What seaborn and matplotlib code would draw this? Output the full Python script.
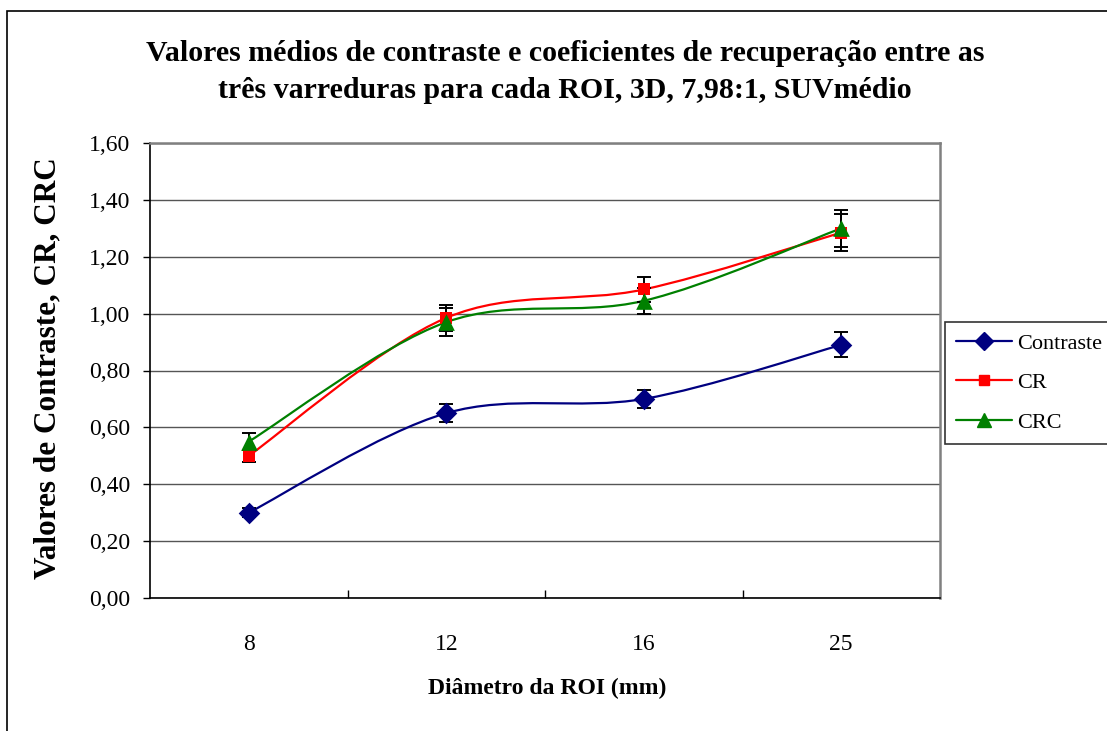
import numpy as np
import matplotlib
matplotlib.use("Agg")
import matplotlib.pyplot as plt
import seaborn as sns
from matplotlib.path import Path
from matplotlib.patches import PathPatch, Rectangle
from matplotlib.lines import Line2D
from matplotlib.ticker import FixedLocator, FuncFormatter

# data
diametros = ["8", "12", "16", "25"]
contraste = [0.30, 0.65, 0.70, 0.89]
contraste_err = [0.015, 0.031, 0.033, 0.044]
cr = [0.50, 0.985, 1.085, 1.285]
cr_err = [0.02, 0.045, 0.045, 0.065]
crc = [0.55, 0.97, 1.045, 1.30]
crc_err = [0.03, 0.05, 0.045, 0.065]

series = [
    ("Contraste", contraste, contraste_err, "#000080", "D", 11),
    ("CR", cr, cr_err, "#FF0000", "s", 9),
    ("CRC", crc, crc_err, "#008000", "^", 12),
]

sns.set_theme(style="white")
plt.rcParams["font.family"] = ["Liberation Serif", "DejaVu Serif"]
plt.rcParams["text.color"] = "black"
plt.rcParams["xtick.color"] = "black"
plt.rcParams["ytick.color"] = "black"


def smooth_path(xs, ys):
    """Excel-like smoothed line as cubic bezier segments in data coords."""
    pts = np.column_stack([xs, ys]).astype(float)
    ext = np.vstack([pts[0], pts, pts[-1]])
    verts = [pts[0]]
    codes = [Path.MOVETO]
    for i in range(len(pts) - 1):
        p0, p1, p2, p3 = ext[i], ext[i + 1], ext[i + 2], ext[i + 3]
        c1 = p1 + (p2 - p0) / 6.0
        c2 = p2 - (p3 - p1) / 6.0
        verts += [c1, c2, p2]
        codes += [Path.CURVE4] * 3
    return Path(verts, codes)


fig = plt.figure(figsize=(11.07, 7.31), dpi=100)
ax = fig.add_axes([150 / 1107, 1 - 598 / 731, 790 / 1107, 455 / 731])

x = np.arange(len(diametros))
for name, vals, errs, color, marker, ms in series:
    ax.add_patch(PathPatch(smooth_path(x, vals), facecolor="none",
                           edgecolor=color, lw=1.6, zorder=3))
    ax.errorbar(x, vals, yerr=errs, fmt="none", ecolor="black",
                elinewidth=1.4, capsize=4.8, capthick=1.4, zorder=4)
    sns.scatterplot(x=x, y=vals, marker=marker, s=ms ** 2, color=color,
                    edgecolor=color, linewidth=0, ax=ax, zorder=5, legend=False)

ax.set_xlim(-0.5, 3.5)
ax.set_ylim(0, 1.6)
ax.set_xticks(x)
ax.set_xticklabels(diametros)
ax.xaxis.set_minor_locator(FixedLocator([0.5, 1.5, 2.5]))
ax.set_yticks(np.arange(0, 1.61, 0.2))
ax.yaxis.set_major_formatter(FuncFormatter(lambda v, p: f"{v:.2f}".replace(".", ",")))

ax.grid(axis="y", color="#555555", lw=1.0)
ax.set_axisbelow(True)
ax.tick_params(axis="x", which="major", direction="out", length=5, width=1,
               pad=21, labelsize=17)
ax.tick_params(axis="x", which="minor", direction="in", length=6, width=1,
               bottom=True)
ax.tick_params(axis="y", direction="out", length=5, width=1,
               pad=9, labelsize=17, left=True)
for s in ["left", "bottom"]:
    ax.spines[s].set_color("black")
    ax.spines[s].set_linewidth(1.2)
for s in ["top", "right"]:
    ax.spines[s].set_color("#808080")
    ax.spines[s].set_linewidth(1.8)

# titles and labels
fig.text(565 / 1107, 1 - 72 / 731,
         "Valores médios de contraste e coeficientes de recuperação entre as\n"
         "três varreduras para cada ROI, 3D, 7,98:1, SUVmédio",
         ha="center", va="center", fontsize=21.5, fontweight="bold",
         linespacing=1.45)
fig.text(547 / 1107, 1 - 688 / 731, "Diâmetro da ROI (mm)", ha="center",
         va="center", fontsize=17, fontweight="bold")
fig.text(48 / 1107, 1 - 368 / 731, "Valores de Contraste, CR, CRC",
         ha="center", va="center", rotation=90, fontsize=22.5, fontweight="bold")

# legend
handles = [Line2D([0], [0], color=c, lw=1.6, marker=m, markersize=ms * 0.8,
                  markerfacecolor=c, markeredgecolor=c)
           for _, _, _, c, m, ms in series]
leg = fig.legend(handles, [s[0] for s in series], loc="upper left",
                 bbox_to_anchor=(945 / 1107, 1 - 322 / 731), frameon=True,
                 fancybox=False, edgecolor="black", fontsize=16,
                 handlelength=2.5, handletextpad=0.25, labelspacing=0.85,
                 borderpad=0.5, borderaxespad=0)
leg.get_frame().set_linewidth(1.2)

# outer chart border
fig.patches.append(Rectangle((7 / 1107, -0.1), 1.2, 1 - 11 / 731 + 0.1,
                             transform=fig.transFigure, fill=False,
                             edgecolor="black", lw=1.2))

fig.savefig("out.png", dpi=100)
